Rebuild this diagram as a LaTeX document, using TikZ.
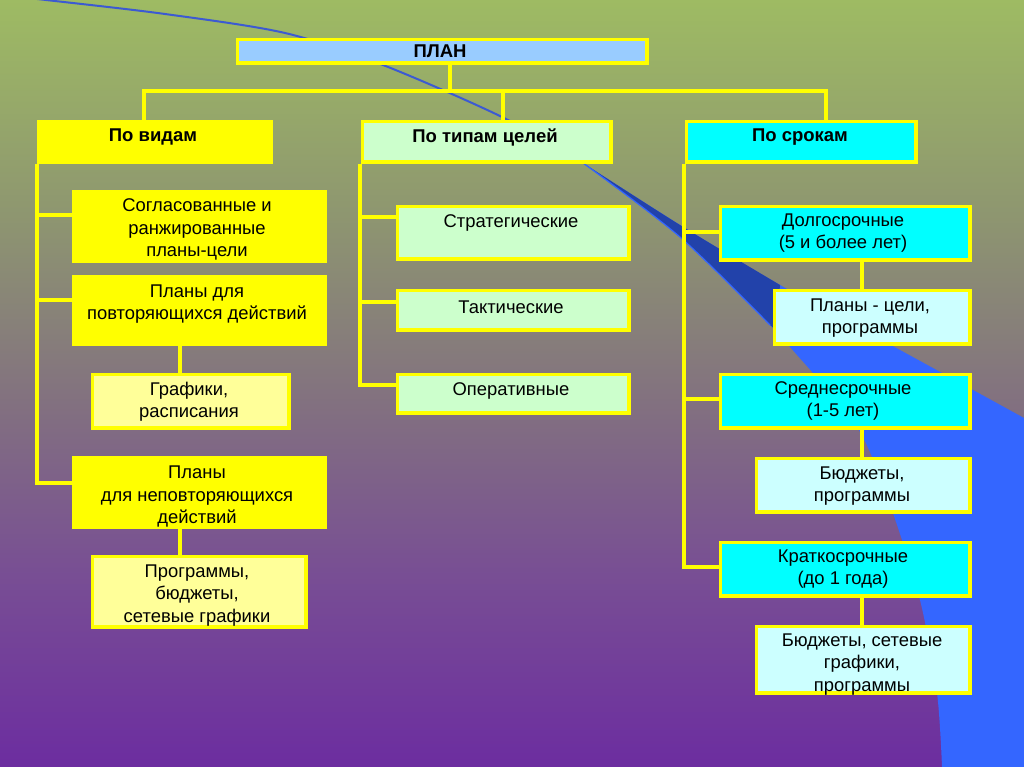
\documentclass[tikz,border=0pt]{standalone}
\usepackage{fontspec}
\setmainfont{Liberation Sans}
\definecolor{bgtop}{RGB}{158,187,99}
\definecolor{bgmidA}{RGB}{142,150,112}
\definecolor{bgmidB}{RGB}{130,112,128}
\definecolor{bgmidC}{RGB}{120,78,148}
\definecolor{bgbot}{RGB}{108,45,160}
\definecolor{swdark}{RGB}{34,66,170}
\definecolor{swbright}{RGB}{52,102,255}
\definecolor{swline}{RGB}{60,90,210}
\definecolor{boxyellow}{RGB}{255,255,0}
\definecolor{planblue}{RGB}{153,204,255}
\definecolor{fyellow}{RGB}{255,255,0}
\definecolor{flyellow}{RGB}{255,255,153}
\definecolor{fgreen}{RGB}{204,255,204}
\definecolor{fcyan}{RGB}{0,255,255}
\definecolor{flcyan}{RGB}{204,255,255}
% the filled path occupies 25bp..75bp of the shading
\pgfdeclareverticalshading{bgshade}{100bp}{color(0bp)=(bgbot); color(25bp)=(bgbot); color(37.5bp)=(bgmidC); color(48.5bp)=(bgmidB); color(61bp)=(bgmidA); color(75bp)=(bgtop); color(100bp)=(bgtop)}
\tikzset{
  box/.style={draw=boxyellow, line width=3.4pt, inner sep=0pt, anchor=north west},
  txt/.style={align=center, font=\fontsize{18.4}{22.3}\selectfont, inner sep=0pt, text=black},
  hdr/.style={font=\bfseries\fontsize{18.5}{22}\selectfont, inner sep=0pt, text=black},
  conn/.style={draw=boxyellow, line width=3.4pt},
}
\newcommand\mkbox[6]{%
  \node[box, fill=#6, minimum width={#4-#2-3.4}, minimum height={#5-#3-3.4}] (#1) at ({#2+1.7},{#3+1.7}) {};}
\begin{document}
\begin{tikzpicture}[x=1pt,y=-1pt]
\useasboundingbox (0,0) rectangle (1024,767);
\begin{scope}
\clip (0,0) rectangle (1024,767);
\shade[shading=bgshade] (0,0) rectangle (1024,767);
% swoosh
\fill[swbright] plot[smooth] coordinates {(583,163) (680,225) (780,285) (900,350) (1024,418)}
  -- (1030,418) -- (1030,770) -- (942,770)
  -- plot[smooth] coordinates {(942,767) (937,693) (920,600) (890,505) (857,427) (790,347) (770,325) (680,237) (583,163)} -- cycle;
\fill[swdark] plot[smooth] coordinates {(583,163) (680,225) (780,285)}
  -- (776,330) -- plot[smooth] coordinates {(770,325) (680,237) (583,163)} -- cycle;
\draw[swbright, line width=1.2pt] plot[smooth] coordinates {(583,163) (680,237) (770,325)};
\draw[swline, line width=2pt] plot[smooth] coordinates {(-10,-6) (46,0) (165,14) (285,33) (383,65) (502,117) (583,163)};
\end{scope}

% boxes
\mkbox{plan}{234}{36}{647}{63}{planblue}
\mkbox{vid}{35}{118}{271}{162}{fyellow}
\mkbox{tip}{359}{118}{611}{162}{fgreen}
\mkbox{srok}{683}{118}{916}{162}{fcyan}
\mkbox{v1}{70}{188}{325}{261}{fyellow}
\mkbox{v2}{70}{273}{325}{344}{fyellow}
\mkbox{v3}{89}{371}{289}{428}{flyellow}
\mkbox{v4}{70}{454}{325}{527}{fyellow}
\mkbox{v5}{89}{553}{306}{627}{flyellow}
\mkbox{t1}{394}{203}{629}{259}{fgreen}
\mkbox{t2}{394}{287}{629}{330}{fgreen}
\mkbox{t3}{394}{371}{629}{413}{fgreen}
\mkbox{s1}{717}{203}{970}{260}{fcyan}
\mkbox{s2}{771}{287}{970}{344}{flcyan}
\mkbox{s3}{717}{371}{970}{428}{fcyan}
\mkbox{s4}{753}{455}{970}{512}{flcyan}
\mkbox{s5}{717}{539}{970}{596}{fcyan}
\mkbox{s6}{753}{623}{970}{693}{flcyan}

% texts
\node[hdr] (plant) at (440,51.5) {ПЛАН};
\node[hdr] (vidt) at (153,137) {По видам};
\node[hdr] (tipt) at (485,137) {По типам целей};
\node[hdr] (srokt) at (800,137) {По срокам};
\node[txt] (v1t) at (197,229.5) {Согласованные и\\ранжированные\\планы-цели};
\node[txt] (v2t) at (197,304) {Планы для\\повторяющихся действий};
\node[txt] (v3t) at (189,402) {Графики,\\расписания};
\node[txt] (v4t) at (197,496.5) {Планы\\для неповторяющихся\\действий};
\node[txt] (v5t) at (197,595.5) {Программы,\\бюджеты,\\сетевые графики};
\node[txt] (t1t) at (511,223) {Стратегические};
\node[txt] (t2t) at (511,307) {Тактические};
\node[txt] (t3t) at (511,391) {Оперативные};
\node[txt] (s1t) at (843,233) {Долгосрочные\\(5 и более лет)};
\node[txt] (s2t) at (870,318) {Планы - цели,\\программы};
\node[txt] (s3t) at (843,401) {Среднесрочные\\(1-5 лет)};
\node[txt] (s4t) at (862,486) {Бюджеты,\\программы};
\node[txt] (s5t) at (843,569) {Краткосрочные\\(до 1 года)};
\node[txt] (s6t) at (862,664.5) {Бюджеты, сетевые\\графики,\\программы};

% connectors
\coordinate (hp) at (450,91);
\coordinate (hl) at (144,91);
\coordinate (hm) at (503,91);
\coordinate (hr) at (826,91);
\draw[conn] (plan.south -| hp) -- (hp);
\draw[conn, line join=miter] (vid.north -| hl) -- (hl) -- (hr) -- (srok.north -| hr);
\draw[conn] (hm) -- (tip.north -| hm);

\coordinate (l1) at (37,215);
\coordinate (l2) at (37,300);
\coordinate (l4) at (37,483);
\draw[conn, line join=miter] (vid.south -| l4) -- (l4) -- (v4.west |- l4);
\draw[conn] (l1) -- (v1.west |- l1);
\draw[conn] (l2) -- (v2.west |- l2);
\coordinate (lc) at (180,0);
\draw[conn] (v2.south -| lc) -- (v3.north -| lc);
\draw[conn] (v4.south -| lc) -- (v5.north -| lc);

\coordinate (m1) at (360,217);
\coordinate (m2) at (360,302);
\coordinate (m3) at (360,385);
\draw[conn, line join=miter] (tip.south -| m3) -- (m3) -- (t3.west |- m3);
\draw[conn] (m1) -- (t1.west |- m1);
\draw[conn] (m2) -- (t2.west |- m2);

\coordinate (r1) at (684,232);
\coordinate (r2) at (684,399);
\coordinate (r3) at (684,567);
\draw[conn, line join=miter] (srok.south -| r3) -- (r3) -- (s5.west |- r3);
\draw[conn] (r1) -- (s1.west |- r1);
\draw[conn] (r2) -- (s3.west |- r2);
\coordinate (rc) at (862,0);
\draw[conn] (s1.south -| rc) -- (s2.north -| rc);
\draw[conn] (s3.south -| rc) -- (s4.north -| rc);
\draw[conn] (s5.south -| rc) -- (s6.north -| rc);
\end{tikzpicture}
\end{document}
